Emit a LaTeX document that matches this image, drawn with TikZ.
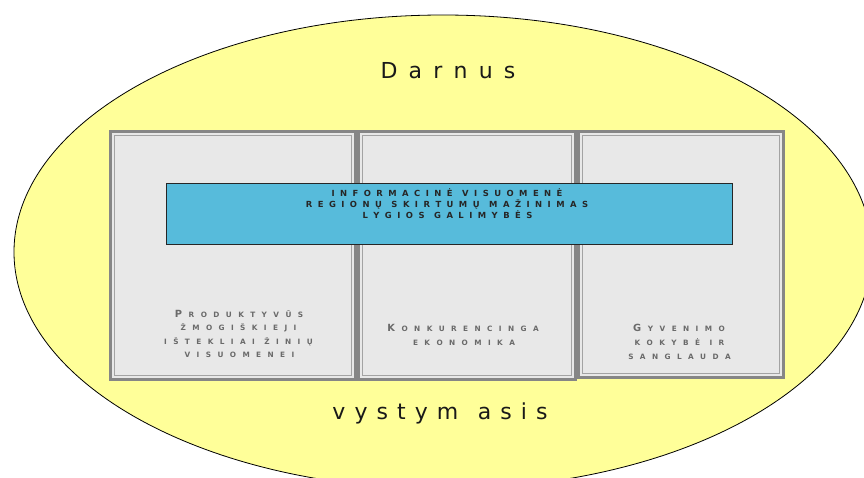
\documentclass[tikz,border=0pt]{standalone}
\usepackage{fontspec}
\setmainfont{DejaVu Sans}
\makeatletter
\newcommand\spread[2]{\def\sp@gap{\kern#1\relax}\@tfor\sp@c:=#2\do{\sp@c\sp@gap}\unkern}
\makeatother
\newcommand\ws{\kern-1pt\relax}
\newcommand\pws{\kern-2.5pt\relax}
\newcommand\vws{\kern1pt\relax}
\newcommand\bartxt[1]{{\bfseries\fontsize{6.3}{7}\selectfont\spread{4.1pt}{#1}}}
\newcommand\smline[1]{{\bfseries\fontsize{5.5}{6}\selectfont\spread{4.8pt}{#1}}}
\newcommand\scline[2]{{\bfseries\fontsize{7.4}{8}\selectfont #1}\kern5pt\smline{#2}}
\definecolor{ellfill}{HTML}{FFFF99}
\definecolor{panelfill}{HTML}{E8E8E8}
\definecolor{frameA}{HTML}{868686}
\definecolor{frameB}{HTML}{A3A3A3}
\definecolor{barblue}{HTML}{57BBDB}
\definecolor{ptext}{HTML}{6A6A6A}
\begin{document}
\begin{tikzpicture}[x=0.75pt,y=-0.75pt,
  panelframe/.style={draw=frameA, line width=2.25pt, fill=panelfill},
  panelinner/.style={draw=frameB, line width=1.1pt},
  bartext/.style={anchor=base, inner sep=0pt, text=black!85},
  ptextstyle/.style={anchor=base, inner sep=0pt, text=ptext},
  bigword/.style={anchor=base, inner sep=0pt, text=black!90, font=\fontsize{16.5}{18}\selectfont}]
\useasboundingbox (0,0) rectangle (864,478);
\clip (0,0) rectangle (864,478);
% ellipse
\draw[black, line width=0.6pt, fill=ellfill] (443,252) ellipse [x radius=429, y radius=237];
% panels
\draw[panelframe] (110.5,131.5) rectangle (355.5,379.5);
\draw[panelinner] (114.5,135.5) rectangle (351.5,375.5);
\draw[panelframe] (358.5,131.5) rectangle (575.5,379.5);
\draw[panelinner] (362.5,135.5) rectangle (571.5,375.5);
\draw[panelframe] (578.5,131.5) rectangle (783.5,377.5);
\draw[panelinner] (582.5,135.5) rectangle (779.5,373.5);
% blue bar
\node[draw=black!85, line width=0.75pt, fill=barblue, minimum width=424.5pt, minimum height=45.75pt, inner sep=0pt] (bar) at (449.5,213.5) {};
\node[bartext] (b1) at (447,196.7) {\bartxt{INFORMACINĖ\ws VISUOMENĖ}};
\node[bartext] (b2) at (447,207) {\bartxt{REGIONŲ\ws SKIRTUMŲ\ws MAŽINIMAS}};
\node[bartext] (b3) at (447.5,218) {\bartxt{LYGIOS\ws GALIMYBĖS}};
% panel texts
\node[ptextstyle] (p1a) at (239,317) {\scline{P}{RODUKTYVŪS}};
\node[ptextstyle] (p1b) at (238.5,330.5) {\smline{ŽMOGIŠKIEJI}};
\node[ptextstyle] (p1c) at (238.5,344) {\smline{IŠTEKLIAI\pws ŽINIŲ}};
\node[ptextstyle] (p1d) at (239.5,357.5) {\smline{VISUOMENEI}};
\node[ptextstyle] (p2a) at (463,331.5) {\scline{K}{ONKURENCINGA}};
\node[ptextstyle] (p2b) at (464,345.5) {\smline{EKONOMIKA}};
\node[ptextstyle] (p3a) at (679,331.5) {\scline{G}{YVENIMO}};
\node[ptextstyle] (p3b) at (679.5,345.5) {\smline{KOKYBĖ\pws IR}};
\node[ptextstyle] (p3c) at (679.5,359.3) {\smline{SANGLAUDA}};
% big words
\node[bigword] (darnus) at (448,79) {\spread{8.4pt}{Darnus}};
\node[bigword] (vyst) at (440,419) {\spread{6.8pt}{vystym\vws asis}};
\end{tikzpicture}
\end{document}
